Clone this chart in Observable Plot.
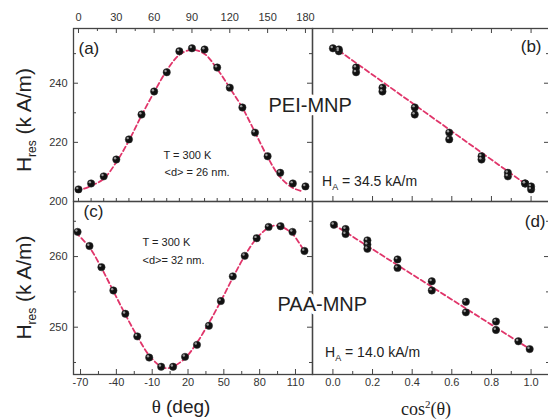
<!DOCTYPE html>
<html>
<head>
<meta charset="utf-8">
<script src="https://cdn.jsdelivr.net/npm/d3@7"></script>
<script src="https://cdn.jsdelivr.net/npm/@observablehq/plot@0.6"></script>
<style>
html, body { margin: 0; padding: 0; background: #fff; overflow: hidden; }
#chart { position: relative; width: 548px; height: 420px; overflow: hidden; background: #fff; }
#chart svg { position: absolute; left: 0; top: 0; }
</style>
</head>
<body>
<div id="chart"></div>
<script>
// ---------- data ----------
// (a) PEI-MNP, H_res vs theta
const thetaA = [0, 10, 20, 30, 40, 50, 60, 70, 80, 90, 100, 110, 120, 130, 140, 150, 160, 170, 180];
const hresA  = [204.1, 206.1, 208.5, 214.2, 221.0, 229.4, 237.2, 243.7, 250.8, 251.8, 251.4, 245.3, 238.5, 231.8, 223.3, 215.3, 209.7, 206.1, 205.1];
const fitThetaA = [-1.5, 10, 20, 30, 40, 50, 60, 70, 80, 90, 100, 110, 120, 130, 140, 150, 160, 170, 177];
const fitHresA  = [203.4, 205.3, 207.7, 213.3, 220.6, 229.1, 237.0, 244.3, 249.6, 251.3, 249.9, 244.8, 238.4, 231.7, 223.4, 215.0, 208.2, 204.6, 203.5];

// (b) PEI-MNP, H_res vs cos^2(theta)
const cos2B = [1.0, 0.97, 0.883, 0.75, 0.587, 0.413, 0.25, 0.117, 0.03, 0.0, 0.03, 0.117, 0.25, 0.413, 0.587, 0.75, 0.883, 0.97, 1.0];
const hresB = [204.1, 206.1, 208.5, 214.2, 221.0, 229.4, 237.2, 243.7, 250.8, 251.8, 251.4, 245.3, 238.5, 231.8, 223.3, 215.3, 209.7, 206.1, 205.1];
const fitCos2B = [0.03, 0.985];
const fitHresB = [251.0, 205.3];

// (c) PAA-MNP, H_res vs theta
const thetaC = [-72.5, -62.5, -52.5, -42.5, -32.5, -22.5, -12.5, -2.5, 7.5, 17.5, 27.5, 37.5, 47.5, 57.5, 67.5, 77.5, 87.5, 97.5, 107.5, 117.5];
const hresC  = [263.5, 261.5, 258.5, 255.2, 251.9, 248.7, 245.7, 244.4, 244.4, 245.8, 247.5, 250.2, 253.7, 257.2, 260.1, 262.6, 264.2, 264.3, 263.5, 260.8];
const fitThetaC = [-74, -62.5, -52.5, -42.5, -32.5, -22.5, -12.5, -2.5, 2.5, 7.5, 17.5, 27.5, 37.5, 47.5, 57.5, 67.5, 77.5, 87.5, 92.5, 97.5, 107.5, 117.5];
const fitHresC  = [263.4, 261.3, 258.4, 255.1, 251.8, 248.7, 246.0, 244.4, 244.2, 244.4, 245.6, 247.8, 250.6, 253.7, 257.0, 260.1, 262.6, 264.1, 264.4, 264.3, 263.2, 260.7];

// (d) PAA-MNP, H_res vs cos^2(theta)
const cos2D = [0.005, 0.064, 0.064, 0.174, 0.174, 0.174, 0.326, 0.326, 0.499, 0.499, 0.671, 0.671, 0.823, 0.823, 0.936, 0.993];
const hresD = [264.5, 263.9, 263.2, 262.3, 261.7, 261.1, 259.6, 258.4, 256.5, 255.2, 253.6, 252.1, 250.8, 249.6, 248.0, 246.9];
const fitCos2D = [0.0, 1.005];
const fitHresD = [264.6, 246.7];

// tick values / labels
const thetaTopTicks = [0, 30, 60, 90, 120, 150, 180];
const thetaBottomTicks = [-70, -40, -10, 20, 50, 80, 110];
const cos2Ticks = [0.0, 0.2, 0.4, 0.6, 0.8, 1.0];
const yTicksTop = [200, 220, 240];
const yTicksBottom = [250, 260];

const labelsText = {
  a: "(a)", b: "(b)", c: "(c)", d: "(d)",
  sampleTop: "PEI-MNP", sampleBottom: "PAA-MNP",
  tempA: "T = 300 K", sizeA: "<d> = 26 nm.",
  tempC: "T = 300 K", sizeC: "<d>= 32 nm.",
  haB: "34.5 kA/m", haD: "14.0 kA/m"
};

// ---------- layout / style ----------
const W = 550, H = 420;
const X0 = 73, XM = 312, X1 = 549;
const Y0 = 28, YM = 201, Y1 = 374;
const AX = "#444";
const RED = "#e0356a";
const SANS = "'Liberation Sans', Arial, sans-serif";
const SERIF = "'Liberation Serif', 'Times New Roman', serif";
const FS = 11;

const zipRows = (xs, ys) => xs.map((x, i) => ({x, y: ys[i]}));
const range = (a, b, s) => d3.range(a, b + s / 2, s).map(v => +v.toFixed(6));

function ticksX(vals, fh, len, side) {
  const o = {x: d => d, stroke: AX, strokeWidth: 1};
  if (side === "bottom") o.insetTop = fh - len; else o.insetBottom = fh - len;
  return Plot.ruleX(vals, o);
}
function ticksY(vals, fw, len, side) {
  const o = {y: d => d, stroke: AX, strokeWidth: 1};
  if (side === "left") o.insetRight = fw - len; else o.insetLeft = fw - len;
  return Plot.ruleY(vals, o);
}
function dataMarks(pts, fit, curve) {
  return [
    Plot.line(fit, {x: "x", y: "y", stroke: RED, strokeWidth: 1.8, strokeDasharray: "5,3", curve}),
    Plot.dot(pts, {x: "x", y: "y", r: 3.7, fill: "#111", stroke: "#333", strokeWidth: 0.5}),
    Plot.dot(pts, {x: "x", y: "y", r: 1.2, fill: "#9a9a9a", dx: -1.2, dy: -1.3})
  ];
}
function label(txt, anchor, dx, dy, size, extra = {}) {
  return Plot.text([txt], {text: d => d, frameAnchor: anchor, dx, dy, fontSize: size,
    textAnchor: anchor.endsWith("right") ? "end" : "start", lineAnchor: "middle", fill: "#222", ...extra});
}
function panel({x0, x1, y0, y1, xDomain, yDomain, marks}) {
  return Plot.plot({
    width: W, height: H,
    marginLeft: x0, marginRight: W - x1, marginTop: y0, marginBottom: H - y1,
    x: {domain: xDomain, axis: null},
    y: {domain: yDomain, axis: null},
    style: {background: "transparent", overflow: "visible", color: AX, fontFamily: SANS, maxWidth: "none"},
    marks
  });
}

const fwL = XM - X0, fwR = X1 - XM, fhT = YM - Y0, fhB = Y1 - YM;
const domThetaA = [-3.96, 185.6];
const domThetaC = [-75.9, 124.25];
const domCos2 = [-0.103, 1.093];
const domHTop = [200, 258.5];
const domHBottom = [243.3, 267.8];

// (a)
const pa = panel({
  x0: X0, x1: XM, y0: Y0, y1: YM, xDomain: domThetaA, yDomain: domHTop,
  marks: [
    Plot.frame({stroke: AX, strokeWidth: 1.3}),
    ticksX(thetaTopTicks, fhT, 5, "top"),
    ticksX(range(15, 165, 30), fhT, 3, "top"),
    ticksX(range(0, 180, 10), fhT, 3, "bottom"),
    ticksY(yTicksTop, fwL, 5, "left"),
    ticksY([210, 230, 250], fwL, 3, "left"),
    ticksY(yTicksTop, fwL, 5, "right"),
    ticksY([210, 230, 250], fwL, 3, "right"),
    Plot.axisX({anchor: "top", ticks: thetaTopTicks, tickSize: 0, tickPadding: 8, fontSize: FS, label: null, tickFormat: d => String(d), fill: "#333"}),
    Plot.axisY({anchor: "left", ticks: yTicksTop, tickSize: 0, tickPadding: 6, fontSize: FS, label: null, tickFormat: d => String(d), fill: "#333"}),
    ...dataMarks(zipRows(thetaA, hresA), zipRows(fitThetaA, fitHresA), "catmull-rom"),
    label(labelsText.a, "top-left", 5, 20, 17),
    label(labelsText.tempA, "top-left", 90, 127, FS),
    label(labelsText.sizeA, "top-left", 91, 144, FS)
  ]
});

// (b)
const pb = panel({
  x0: XM, x1: X1, y0: Y0, y1: YM, xDomain: domCos2, yDomain: domHTop,
  marks: [
    Plot.frame({stroke: AX, strokeWidth: 1.3}),
    ticksX(cos2Ticks, fhT, 5, "top"),
    ticksX(range(0.1, 0.9, 0.2), fhT, 3, "top"),
    ticksX(cos2Ticks, fhT, 5, "bottom"),
    ticksX(range(0.1, 0.9, 0.2), fhT, 3, "bottom"),
    ticksY(yTicksTop, fwR, 5, "right"),
    ticksY([210, 230, 250], fwR, 3, "right"),
    ...dataMarks(zipRows(cos2B, hresB), zipRows(fitCos2B, fitHresB), "linear"),
    label(labelsText.b, "top-right", -8, 18.5, 17),
    label(labelsText.sampleTop, "top-left", -44, 77, 20, {stroke: "white", strokeWidth: 7, paintOrder: "stroke"})
  ]
});

// (c)
const pc = panel({
  x0: X0, x1: XM, y0: YM, y1: Y1, xDomain: domThetaC, yDomain: domHBottom,
  marks: [
    Plot.frame({stroke: AX, strokeWidth: 1.3}),
    ticksX(thetaBottomTicks, fhB, 5, "bottom"),
    ticksX(range(-55, 95, 30), fhB, 3, "bottom"),
    ticksY(yTicksBottom, fwL, 5, "left"),
    ticksY([245, 255, 265], fwL, 3, "left"),
    ticksY(yTicksBottom, fwL, 5, "right"),
    ticksY([245, 255, 265], fwL, 3, "right"),
    Plot.axisX({anchor: "bottom", ticks: thetaBottomTicks, tickSize: 0, tickPadding: 4, fontSize: FS, label: null, tickFormat: d => String(d), fill: "#333"}),
    Plot.axisY({anchor: "left", ticks: yTicksBottom, tickSize: 0, tickPadding: 6, fontSize: FS, label: null, tickFormat: d => String(d), fill: "#333"}),
    ...dataMarks(zipRows(thetaC, hresC), zipRows(fitThetaC, fitHresC), "catmull-rom"),
    label(labelsText.c, "top-left", 10, 10, 17),
    label(labelsText.tempC, "top-left", 69, 41, FS),
    label(labelsText.sizeC, "top-left", 69, 59, FS)
  ]
});

// (d)
const pd = panel({
  x0: XM, x1: X1, y0: YM, y1: Y1, xDomain: domCos2, yDomain: domHBottom,
  marks: [
    Plot.frame({stroke: AX, strokeWidth: 1.3}),
    ticksX(cos2Ticks, fhB, 5, "bottom"),
    ticksX(range(0.1, 0.9, 0.2), fhB, 3, "bottom"),
    ticksY(yTicksBottom, fwR, 5, "right"),
    ticksY([245, 255, 265], fwR, 3, "right"),
    Plot.axisX({anchor: "bottom", ticks: cos2Ticks, tickSize: 0, tickPadding: 4, fontSize: FS, label: null, tickFormat: d3.format(".1f"), fill: "#333"}),
    ...dataMarks(zipRows(cos2D, hresD), zipRows(fitCos2D, fitHresD), "linear"),
    label(labelsText.d, "top-right", -4, 20, 17),
    label(labelsText.sampleBottom, "top-left", -35, 103, 20, {stroke: "white", strokeWidth: 7, paintOrder: "stroke"})
  ]
});

const chart = document.getElementById("chart");
[pa, pb, pc, pd].forEach(p => chart.appendChild(p));

// rich texts (sub/superscripts)
function rich(svg, parts, {x, y, size, anchor = "start", rotate = 0, family = SANS}) {
  const t = d3.select(svg).append("text")
    .attr("transform", `translate(${x},${y}) rotate(${rotate})`)
    .attr("text-anchor", anchor)
    .attr("font-family", family)
    .attr("font-size", size)
    .attr("fill", "#222");
  for (const p of parts) {
    const s = t.append("tspan").text(p.t);
    if (p.size) s.attr("font-size", p.size);
    if (p.dy) s.attr("dy", p.dy);
    if (p.family) s.attr("font-family", p.family);
  }
}
const hresParts = [{t: "H"}, {t: "res", size: 12, dy: 5}, {t: " (k A/m)", dy: -5}];
rich(pa, hresParts, {x: 31, y: 120, size: 21, anchor: "middle", rotate: -90});
rich(pc, hresParts, {x: 31, y: 287.5, size: 21, anchor: "middle", rotate: -90});
rich(pc, [{t: "θ", family: SERIF}, {t: " (deg)"}], {x: 181, y: 413, size: 19, anchor: "middle"});
rich(pd, [{t: "cos"}, {t: "2", size: 11, dy: -7}, {t: "(θ)", dy: 7}], {x: 426, y: 415, size: 18, anchor: "middle", family: SERIF});
rich(pb, [{t: "H"}, {t: "A", size: 9, dy: 4}, {t: " = " + labelsText.haB, dy: -4}], {x: 322, y: 186, size: 14});
rich(pd, [{t: "H"}, {t: "A", size: 9, dy: 4}, {t: " = " + labelsText.haD, dy: -4}], {x: 325, y: 357, size: 14});
</script>
</body>
</html>
